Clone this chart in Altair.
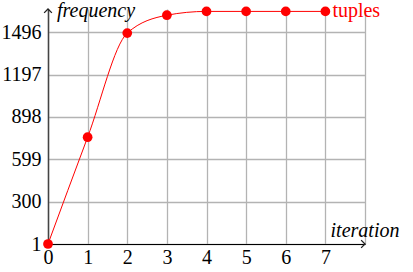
import altair as alt
import pandas as pd

iterations = [0, 1, 2, 3, 4, 5, 6, 7]
tuples = [1, 755, 1490, 1616, 1643, 1643, 1643, 1643]
y_ticks = [1, 300, 599, 898, 1197, 1496]
x_ticks = [0, 1, 2, 3, 4, 5, 6, 7, 8]
y_max = 1660
x_max = 8

df = pd.DataFrame({"iteration": iterations, "tuples": tuples})

FONT = "serif"
RED = "#ff0000"

xscale = alt.Scale(domain=[0, x_max], nice=False, zero=False)
yscale = alt.Scale(domain=[1, y_max], nice=False, zero=False)

x_axis = alt.Axis(values=x_ticks, title=None, grid=True, ticks=False,
                  domain=True, domainColor="#000", domainWidth=1,
                  gridColor="#b3b3b3", gridWidth=1.3,
                  labelFont=FONT, labelFontSize=20, labelColor="#000",
                  labelPadding=3, labelOverlap=False, labelFlush=False,
                  labelExpr="datum.value == 8 ? '' : datum.label")
y_axis = alt.Axis(values=y_ticks, title=None, grid=True, ticks=False,
                  domain=True, domainColor="#444", domainWidth=1.5,
                  gridColor="#b3b3b3", gridWidth=1.3, format="d",
                  labelFont=FONT, labelFontSize=20, labelColor="#000",
                  labelPadding=7, labelOverlap=False, labelFlush=False)


def X(field):
    return alt.X(field, scale=xscale, axis=x_axis)


def Y(field):
    return alt.Y(field, scale=yscale, axis=y_axis)


base = alt.Chart(df)

line = base.mark_line(color=RED, strokeWidth=1, interpolate="monotone").encode(
    x=X("iteration:Q"), y=Y("tuples:Q"))

points = base.mark_circle(color=RED, size=95, opacity=1).encode(
    x=X("iteration:Q"), y=Y("tuples:Q"))

last = pd.DataFrame({"iteration": [iterations[-1]], "tuples": [tuples[-1]], "label": ["tuples"]})
series_label = alt.Chart(last).mark_text(
    color=RED, font=FONT, fontSize=20, align="left", baseline="middle", dx=7, dy=0
).encode(x=X("iteration:Q"), y=Y("tuples:Q"), text="label:N")

ylab_df = pd.DataFrame({"x": [0], "y": [y_max], "label": ["frequency"]})
xlab_df = pd.DataFrame({"x": [x_max], "y": [1], "label": ["iteration"]})
ylab = alt.Chart(ylab_df).mark_text(
    font=FONT, fontSize=20, fontStyle="italic", align="left", baseline="middle", dx=9, dy=2, color="#000"
).encode(x=X("x:Q"), y=Y("y:Q"), text="label:N")
xlab = alt.Chart(xlab_df).mark_text(
    font=FONT, fontSize=20, fontStyle="italic", align="center", baseline="bottom", dx=0, dy=-3, color="#000"
).encode(x=X("x:Q"), y=Y("y:Q"), text="label:N")

arrows = pd.DataFrame({
    "x": [0, x_max],
    "y": [y_max, 1],
    "shape": ["M-1,1L0,0L1,1", "M-1,-1L0,0L-1,1"],
})
arrow_marks = alt.Chart(arrows).mark_point(filled=False, strokeWidth=1.3, size=60, color="#222", opacity=1).encode(
    x=X("x:Q"), y=Y("y:Q"),
    shape=alt.Shape("shape:N", scale=None),
)

chart = alt.layer(line, points, series_label, ylab, xlab, arrow_marks).properties(
    width=317, height=235,
    padding={"left": 48, "top": 9, "right": 48, "bottom": 28},
    autosize=alt.AutoSizeParams(type="none"),
    background="white",
    view=alt.ViewBackground(stroke=None),
)

chart.save("out.html", embed_options={"renderer": "svg", "actions": False})
